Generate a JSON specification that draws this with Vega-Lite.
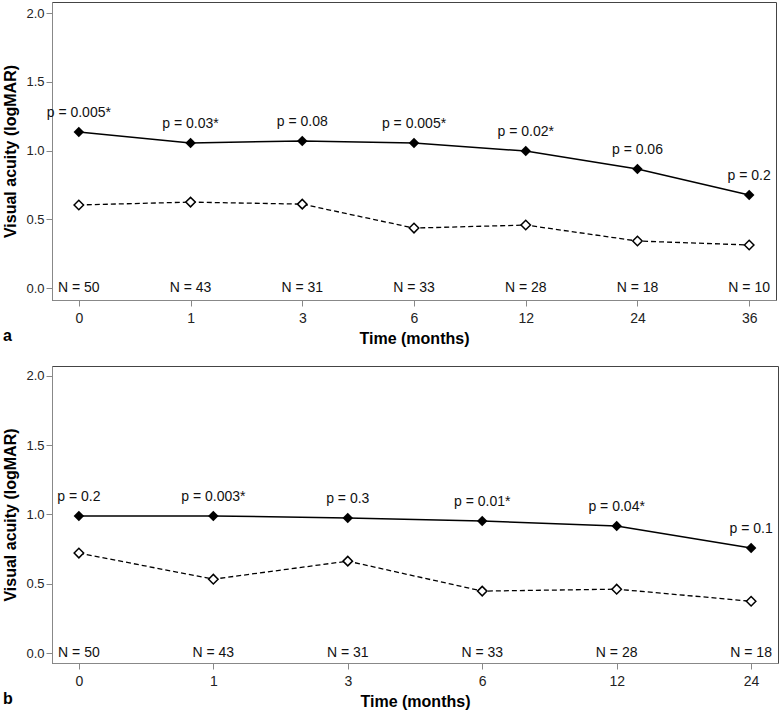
{
  "$schema": "https://vega.github.io/schema/vega-lite/v6.json",
  "padding": {"top": 1, "left": 2, "right": 2, "bottom": 0},
  "spacing": 18,
  "config": {
    "font": "Liberation Sans",
    "view": {"stroke": "#444", "strokeWidth": 1},
    "axis": {"domainColor": "#888", "tickColor": "#888", "tickSize": 6, "labelColor": "#222", "titleColor": "#000", "labelFontSize": 14, "titleFontSize": 16, "titleFontWeight": "bold", "grid": false, "labelFont": "Liberation Sans", "titleFont": "Liberation Sans"},
    "axisY": {"labelFontSize": 13},
    "title": {"font": "Liberation Sans"}
  },
  "datasets": {
    "a": [
      {"t": 0, "s": 1.135, "d": 0.604, "p": "p = 0.005*", "n": "N = 50"},
      {"t": 1, "s": 1.055, "d": 0.625, "p": "p = 0.03*", "n": "N = 43"},
      {"t": 3, "s": 1.07, "d": 0.61, "p": "p = 0.08", "n": "N = 31"},
      {"t": 6, "s": 1.055, "d": 0.436, "p": "p = 0.005*", "n": "N = 33"},
      {"t": 12, "s": 0.996, "d": 0.458, "p": "p = 0.02*", "n": "N = 28"},
      {"t": 24, "s": 0.865, "d": 0.342, "p": "p = 0.06", "n": "N = 18"},
      {"t": 36, "s": 0.676, "d": 0.313, "p": "p = 0.2", "n": "N = 10"}
    ],
    "b": [
      {"t": 0, "s": 0.99, "d": 0.722, "p": "p = 0.2", "n": "N = 50"},
      {"t": 1, "s": 0.99, "d": 0.534, "p": "p = 0.003*", "n": "N = 43"},
      {"t": 3, "s": 0.975, "d": 0.664, "p": "p = 0.3", "n": "N = 31"},
      {"t": 6, "s": 0.953, "d": 0.448, "p": "p = 0.01*", "n": "N = 33"},
      {"t": 12, "s": 0.917, "d": 0.462, "p": "p = 0.04*", "n": "N = 28"},
      {"t": 24, "s": 0.758, "d": 0.375, "p": "p = 0.1", "n": "N = 18"}
    ]
  },
  "vconcat": [
    {
      "width": 724, "height": 298,
      "data": {"name": "a"},
      "title": {"text": "a", "orient": "bottom", "anchor": "start", "frame": "bounds", "fontSize": 16, "fontWeight": "bold", "offset": -18},
      "encoding": {
        "x": {"field": "t", "type": "ordinal", "scale": {"type": "point", "padding": 0.24}, "axis": {"title": "Time (months)", "labelAngle": 0, "labelPadding": 5, "titlePadding": 5}}
      },
      "layer": [
        {"mark": {"type": "line", "color": "black", "strokeWidth": 1.5}, "encoding": {"y": {"field": "s", "type": "quantitative", "scale": {"domain": [-0.087, 2.08], "nice": false, "zero": false}, "axis": {"title": "Visual acuity (logMAR)", "values": [0, 0.5, 1, 1.5, 2], "format": ".1f", "titlePadding": 7}}}},
        {"mark": {"type": "line", "color": "black", "strokeWidth": 1.3, "strokeDash": [5, 3]}, "encoding": {"y": {"field": "d", "type": "quantitative"}}},
        {"mark": {"type": "point", "shape": "diamond", "size": 110, "filled": true, "color": "black", "opacity": 1}, "encoding": {"y": {"field": "s", "type": "quantitative"}}},
        {"mark": {"type": "point", "shape": "diamond", "size": 90, "fill": "white", "stroke": "black", "strokeWidth": 1.5, "opacity": 1}, "encoding": {"y": {"field": "d", "type": "quantitative"}}},
        {"mark": {"type": "text", "fontSize": 14, "dy": -19, "color": "#111"}, "encoding": {"y": {"field": "s", "type": "quantitative"}, "text": {"field": "p"}}},
        {"mark": {"type": "text", "fontSize": 14, "color": "#111"}, "encoding": {"y": {"datum": 0}, "text": {"field": "n"}}}
      ]
    },
    {
      "width": 726, "height": 297,
      "data": {"name": "b"},
      "title": {"text": "b", "orient": "bottom", "anchor": "start", "frame": "bounds", "fontSize": 16, "fontWeight": "bold", "offset": -18},
      "encoding": {
        "x": {"field": "t", "type": "ordinal", "scale": {"type": "point", "padding": 0.2}, "axis": {"title": "Time (months)", "labelAngle": 0, "labelPadding": 5, "titlePadding": 5}}
      },
      "layer": [
        {"mark": {"type": "line", "color": "black", "strokeWidth": 1.5}, "encoding": {"y": {"field": "s", "type": "quantitative", "scale": {"domain": [-0.07, 2.07], "nice": false, "zero": false}, "axis": {"title": "Visual acuity (logMAR)", "values": [0, 0.5, 1, 1.5, 2], "format": ".1f", "titlePadding": 7}}}},
        {"mark": {"type": "line", "color": "black", "strokeWidth": 1.3, "strokeDash": [5, 3]}, "encoding": {"y": {"field": "d", "type": "quantitative"}}},
        {"mark": {"type": "point", "shape": "diamond", "size": 110, "filled": true, "color": "black", "opacity": 1}, "encoding": {"y": {"field": "s", "type": "quantitative"}}},
        {"mark": {"type": "point", "shape": "diamond", "size": 90, "fill": "white", "stroke": "black", "strokeWidth": 1.5, "opacity": 1}, "encoding": {"y": {"field": "d", "type": "quantitative"}}},
        {"mark": {"type": "text", "fontSize": 14, "dy": -19, "color": "#111"}, "encoding": {"y": {"field": "s", "type": "quantitative"}, "text": {"field": "p"}}},
        {"mark": {"type": "text", "fontSize": 14, "color": "#111"}, "encoding": {"y": {"datum": 0}, "text": {"field": "n"}}}
      ]
    }
  ]
}
